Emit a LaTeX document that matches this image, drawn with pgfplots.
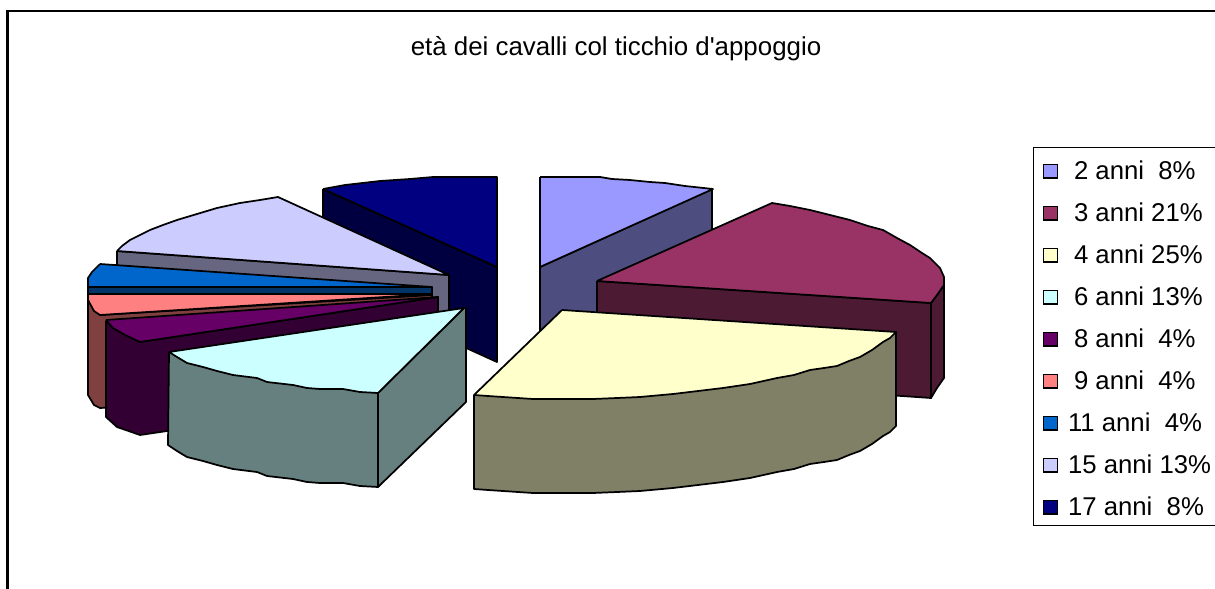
\documentclass[border=0pt]{standalone}
\usepackage{fontspec}
\setmainfont{Liberation Sans}
\newfontfamily\plainfont{Liberation Sans}
\usepackage{pgfplots}
\pgfplotsset{compat=1.18}
\definecolor{a2}{HTML}{9999FF}\definecolor{s2}{HTML}{4D4D80}
\definecolor{a3}{HTML}{993366}\definecolor{s3}{HTML}{4D1A33}
\definecolor{a4}{HTML}{FFFFCC}\definecolor{s4}{HTML}{808066}
\definecolor{a6}{HTML}{CCFFFF}\definecolor{s6}{HTML}{668080}
\definecolor{a8}{HTML}{660066}\definecolor{s8}{HTML}{330033}
\definecolor{a9}{HTML}{FF8080}\definecolor{s9}{HTML}{804040}
\definecolor{a11}{HTML}{0066CC}\definecolor{s11}{HTML}{003366}
\definecolor{a15}{HTML}{CCCCFF}\definecolor{s15}{HTML}{666680}
\definecolor{a17}{HTML}{000080}\definecolor{s17}{HTML}{000040}
\pgfplotsset{
  face/.style={fill=#1,draw=black,line width=1.3pt,line join=round,forget plot,sharp plot,no markers},
  swatch/.style={legend image code/.code={\draw[fill=#1,draw=black,line width=1.1pt] (0pt,-7pt) rectangle (10.5pt,3pt);}},
}
\newcommand{\entry}[1]{\makebox[116pt][l]{\hspace*{7.5pt}#1}}
\begin{document}
\begin{tikzpicture}
\begin{axis}[
  scale only axis, width=911.25pt, height=441.75pt,
  xmin=0, xmax=1215, ymin=0, ymax=589, y dir=reverse,
  axis line style={draw=none}, xtick=\empty, ytick=\empty,
  title={\plainfont età dei cavalli col ticchio d'appoggio},
  title style={at={(0.507,0.903)},anchor=center,font=\fontsize{19.4}{21}\selectfont,inner sep=0pt},
  legend style={at={(axis cs:1033,147)},anchor=north west,draw=black,line width=0.8pt,
    font=\fontsize{19.3}{21}\selectfont,inner xsep=6.75pt,inner ysep=7.75pt,row sep=15.5pt,
    nodes={inner sep=0pt,text height=16pt,text depth=0pt}},
  legend cell align=left,
]
% legend first, slices are forget plot
\addlegendimage{swatch=a2}\addlegendentry{\entry{\hspace*{4.5pt}2 anni\ \ 8\%}}
\addlegendimage{swatch=a3}\addlegendentry{\entry{\hspace*{4.5pt}3 anni 21\%}}
\addlegendimage{swatch=a4}\addlegendentry{\entry{\hspace*{4.5pt}4 anni 25\%}}
\addlegendimage{swatch=a6}\addlegendentry{\entry{\hspace*{4.5pt}6 anni 13\%}}
\addlegendimage{swatch=a8}\addlegendentry{\entry{\hspace*{4.5pt}8 anni\ \ 4\%}}
\addlegendimage{swatch=a9}\addlegendentry{\entry{\hspace*{4.5pt}9 anni\ \ 4\%}}
\addlegendimage{swatch=a11}\addlegendentry{\entry{11 anni\ \ 4\%}}
\addlegendimage{swatch=a15}\addlegendentry{\entry{15 anni 13\%}}
\addlegendimage{swatch=a17}\addlegendentry{\entry{17 anni\ \ 8\%}}

% outer frame
\addplot[draw=black,line width=1.8pt,forget plot,no markers] coordinates {(7.5,600) (7.5,11) (1225,11)};

% 17 anni
\addplot[face=s17] coordinates {(323,189) (497,267) (497,362) (323,283) (323,189)};
\addplot[face=a17] coordinates {(323,189) (345,185) (380,181) (410,179) (433,177) (497,177) (497,267) (323,189)};
% 2 anni
\addplot[face=s2] coordinates {(540,267) (712,189) (712,283) (540,361) (540,267)};
\addplot[face=a2] coordinates {(540,177) (600,177) (612,179) (630,180) (650,182) (665,183) (685,186) (713,189) (540,267) (540,177)};
% 15 anni
\addplot[face=s15] coordinates {(117,251) (449,275) (449,369) (117,345) (117,251)};
\addplot[face=a15] coordinates {(117,251) (122,246) (130,240) (140,235) (150,230) (163,225) (177,220) (197,214) (217,208) (240,203) (260,200) (278,197) (449,275) (117,251)};
% 11 anni
\addplot[face=s11] coordinates {(88,287) (432,287) (432,300) (88,300) (88,287)};
\addplot[face=a11] coordinates {(100,264) (92,272) (88,278) (88,287) (432,287) (100,264)};
% 9 anni
\addplot[face=s9] coordinates {(88,300) (100,315) (432,295) (432,390) (100,408) (94,405) (88,395) (88,300)};
\addplot[face=a9] coordinates {(88,294) (432,294) (100,315) (94,311) (88,300) (88,294)};
% 8 anni
\addplot[face=s8] coordinates {(106,321) (113,328) (140,342) (438,297) (438,391) (140,435) (117,427) (106,417) (106,321)};
\addplot[face=a8] coordinates {(106,320) (438,297) (140,342) (125,335) (113,328) (106,320)};
% 3 anni
\addplot[face=s3] coordinates {(597,281) (931,303) (931,398) (597,375) (597,281)};
\addplot[face=s3] coordinates {(931,303) (937,295) (944,285) (944,378) (937,388) (931,398) (931,303)};
\addplot[face=a3] coordinates {(597,281) (772,203) (790,206) (810,210) (830,215) (850,220) (868,226) (883,230) (897,238) (910,245) (922,253) (930,258) (940,268) (944,277) (944,285) (937,295) (931,303) (597,281)};
% 4 anni
\addplot[face=s4] coordinates {(474,395) (474,489) (488,490) (503,491) (533,493) (563,493) (593,493) (617,492) (640,491) (673,488) (698,485) (723,482) (750,478) (777,472) (794,469) (810,464) (824,462) (837,460) (849,455) (860,451) (872,444) (883,436) (890,432) (896,426) (896,332) (474,395)};
\addplot[face=a4] coordinates {(562,310) (896,332) (890,338) (883,342) (872,350) (860,357) (849,361) (837,366) (824,368) (810,370) (794,375) (777,378) (750,384) (723,388) (698,391) (673,394) (640,397) (617,398) (593,399) (563,399) (533,399) (503,397) (488,396) (474,395) (562,310)};
% 6 anni
\addplot[face=s6] coordinates {(464,308) (378,393) (378,487) (466,402) (466,308) (464,308)};
\addplot[face=s6] coordinates {(169,352) (168,445) (177,451) (187,457) (203,461) (217,465) (233,469) (257,472) (267,476) (293,479) (307,482) (320,483) (343,483) (360,486) (378,487) (378,393) (169,352)};
\addplot[face=a6] coordinates {(169,352) (464,308) (378,393) (360,392) (343,389) (320,389) (307,388) (293,385) (267,382) (257,378) (233,375) (217,371) (203,367) (187,363) (177,357) (169,352)};
\end{axis}
% legend box runs off the right edge, keep the page at the axis size
\pgfresetboundingbox
\path[use as bounding box] (0,0) rectangle (911.25pt,441.75pt);
\end{tikzpicture}
\end{document}
